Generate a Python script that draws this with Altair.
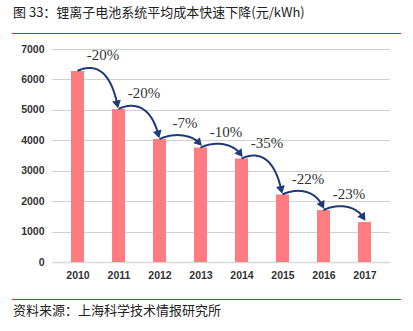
import altair as alt
import numpy as np
import pandas as pd

# ---- data ----
years = [2010, 2011, 2012, 2013, 2014, 2015, 2016, 2017]
costs = [6280, 5030, 4040, 3760, 3400, 2220, 1710, 1315]
changes = ["-20%", "-20%", "-7%", "-10%", "-35%", "-22%", "-23%"]
y_ticks = [0, 1000, 2000, 3000, 4000, 5000, 6000, 7000]
title_text = "图 33：锂离子电池系统平均成本快速下降(元/kWh)"
source_text = "资料来源：上海科学技术情报研究所"

# ---- layout ----
W, H = 338, 213
PAD_L, PAD_T, PAD_R, PAD_B = 52, 49, 23, 69
XMIN, XMAX, YMAX = 2009.5, 2017.5, 7000
kx = W / (XMAX - XMIN)
ky = H / YMAX

BAR_COLOR = "#FF7C80"
ARROW_COLOR = "#1F3A78"
RED = "#D7262B"

bars_df = pd.DataFrame({"year": years, "cost": costs})

# curved arrows between consecutive bars (cubic bezier in data space)
rows, heads, labels = [], [], []
ts = np.linspace(0, 1, 40)
for i in range(len(years) - 1):
    x0, y0 = years[i], costs[i]
    x3, y3 = years[i + 1] - 0.03, costs[i + 1] + 150
    x1, y1 = x0 + 0.35, y0 + 220
    x2, y2 = years[i + 1] - 0.22, y0 + 150
    for t in ts:
        bx = (1 - t) ** 3 * x0 + 3 * (1 - t) ** 2 * t * x1 + 3 * (1 - t) * t ** 2 * x2 + t ** 3 * x3
        by = (1 - t) ** 3 * y0 + 3 * (1 - t) ** 2 * t * y1 + 3 * (1 - t) * t ** 2 * y2 + t ** 3 * y3
        rows.append({"pair": i, "t": t, "x": bx, "y": by})
    dx = (x3 - x2) * kx
    dy = (y2 - y3) * ky
    ang = float(np.degrees(np.arctan2(dy, dx))) % 360
    heads.append({"x": x3, "y": y3, "angle": ang})
    labels.append({"x": x0 + 0.62, "y": y0 + 520, "label": changes[i]})

curve_df = pd.DataFrame(rows)
head_df = pd.DataFrame(heads)
label_df = pd.DataFrame(labels)

xscale = alt.Scale(domain=[XMIN, XMAX], nice=False, zero=False)
yscale = alt.Scale(domain=[0, YMAX], nice=False)

axis_font = "Liberation Sans, Arial"

x_axis = alt.Axis(values=years, format="d", grid=False, ticks=False,
                  domain=True, domainColor="#D9D9D9", domainWidth=1.5,
                  labelFont=axis_font, labelFontWeight="bold",
                  labelFontSize=10.5, labelColor="#333333",
                  labelPadding=8, labelFlush=False, labelOverlap=False, title=None)
y_axis = alt.Axis(values=y_ticks, format="d", grid=True,
                  gridColor="#A0A0A0", gridDash=[1, 1], gridWidth=1,
                  ticks=False, domain=False,
                  labelFont=axis_font, labelFontWeight="bold",
                  labelFontSize=10.5, labelColor="#333333",
                  labelPadding=8, labelOverlap=False, title=None)

bars = alt.Chart(bars_df).mark_bar(color=BAR_COLOR, size=13).encode(
    x=alt.X("year:Q", scale=xscale, axis=x_axis, title=None),
    y=alt.Y("cost:Q", scale=yscale, axis=y_axis, title=None),
)

curves = alt.Chart(curve_df).mark_line(color=ARROW_COLOR, strokeWidth=2).encode(
    x=alt.X("x:Q", scale=xscale, axis=x_axis, title=None),
    y=alt.Y("y:Q", scale=yscale, axis=y_axis, title=None),
    detail="pair:N",
    order="t:Q",
)

arrowheads = alt.Chart(head_df).mark_point(
    shape="triangle-right", filled=True, color=ARROW_COLOR, opacity=1, size=80
).encode(
    x=alt.X("x:Q", scale=xscale, axis=x_axis, title=None),
    y=alt.Y("y:Q", scale=yscale, axis=y_axis, title=None),
    angle=alt.Angle("angle:Q", scale=None),
)

change_labels = alt.Chart(label_df).mark_text(
    font="Liberation Serif", fontSize=15, color="#333333", baseline="middle", align="center"
).encode(
    x=alt.X("x:Q", scale=xscale, axis=x_axis, title=None),
    y=alt.Y("y:Q", scale=yscale, axis=y_axis, title=None),
    text="label:N",
)

one = pd.DataFrame({"a": [0]})
title_mark = alt.Chart(one).mark_text(
    font="Noto Sans CJK SC", fontSize=13, color="#222222", align="left", baseline="middle"
).encode(x=alt.value(13 - PAD_L), y=alt.value(13 - PAD_T), text=alt.value(title_text))

top_rule = alt.Chart(one).mark_rule(color=RED, strokeWidth=1).encode(
    x=alt.value(12 - PAD_L), x2=alt.value(401 - PAD_L), y=alt.value(33.5 - PAD_T))

bottom_rule = alt.Chart(one).mark_rule(color=RED, strokeWidth=1).encode(
    x=alt.value(12 - PAD_L), x2=alt.value(401 - PAD_L), y=alt.value(299.5 - PAD_T))

source_mark = alt.Chart(one).mark_text(
    font="Noto Sans CJK SC", fontSize=13, color="#222222", align="left", baseline="middle"
).encode(x=alt.value(13 - PAD_L), y=alt.value(311 - PAD_T), text=alt.value(source_text))

chart = alt.layer(
    bars, curves, arrowheads, change_labels, title_mark, top_rule, bottom_rule, source_mark
).properties(
    width=W, height=H,
    autosize=alt.AutoSizeParams(type="none"),
    padding={"left": PAD_L, "top": PAD_T, "right": PAD_R, "bottom": PAD_B},
    background="white",
).configure_view(stroke=None)

chart.save("out.html", embed_options={"renderer": "svg", "actions": False})
